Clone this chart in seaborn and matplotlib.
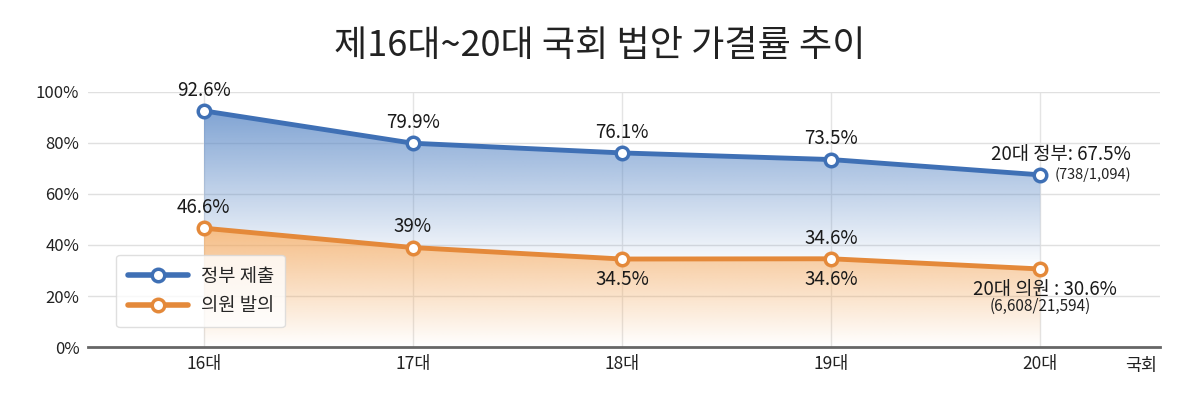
import numpy as np
import pandas as pd
import matplotlib
matplotlib.use("Agg")
import matplotlib.pyplot as plt
import seaborn as sns
from matplotlib.colors import to_rgb
from matplotlib.lines import Line2D

# chart data
sessions = ['16대', '17대', '18대', '19대', '20대']
gov_rate = [92.6, 79.9, 76.1, 73.5, 67.5]
mp_rate = [46.6, 39.0, 34.5, 34.6, 30.6]
gov_labels = ['92.6%', '79.9%', '76.1%', '73.5%', '20대 정부: 67.5%']
mp_labels = ['46.6%', '39%', '34.5%', '34.6%', '20대 의원 : 30.6%']
gov_note = '(738/1,094)'
mp_note = '(6,608/21,594)'
series_names = ['정부 제출', '의원 발의']
y_ticks = [0, 20, 40, 60, 80, 100]

sns.set_theme(style='white')
plt.rcParams['font.family'] = ['Noto Sans CJK KR', 'DejaVu Sans']

blue = '#3f70b5'
orange = '#e4893a'

df = pd.DataFrame({
    'x': list(range(len(sessions))) * 2,
    'rate': gov_rate + mp_rate,
    'series': [series_names[0]] * len(sessions) + [series_names[1]] * len(sessions),
})

fig = plt.figure(figsize=(12, 3.93), dpi=100)
ax = fig.add_axes([0.073, 0.117, 0.894, 0.649])
xs = np.arange(len(sessions))

# gradient fills clipped to the area under each line
def gradient_fill(lower, upper, color, y_lo, y_hi, amax):
    poly = ax.fill_between(xs, lower, upper, color='none', lw=0)
    yy = np.linspace(0, 100, 300)[:, None]
    a = np.clip((yy - y_lo) / (y_hi - y_lo), 0, 1) * amax
    img = np.zeros((300, 2, 4))
    img[..., :3] = to_rgb(color)
    img[..., 3] = a[:, :1]
    im = ax.imshow(img, extent=[0, len(xs) - 1, 0, 100], origin='lower',
                   aspect='auto', zorder=1, interpolation='bilinear')
    im.set_clip_path(poly.get_paths()[0], transform=ax.transData)

gradient_fill(mp_rate, gov_rate, '#5a88c6', 30, 95, 0.8)
gradient_fill([0] * len(xs), mp_rate, '#f2a65a', 0, 47, 0.75)

sns.lineplot(data=df, x='x', y='rate', hue='series', palette=[blue, orange],
             lw=3.5, marker='o', markersize=9, markerfacecolor='white',
             markeredgewidth=2.5, ax=ax, zorder=3, legend=False)
for line, c in zip(ax.lines[:2], [blue, orange]):
    line.set_markeredgecolor(c)

for x in xs:
    ax.axvline(x, color='#e4e4e4', lw=1, zorder=0)
for y in y_ticks[1:]:
    ax.axhline(y, color='#e0e0e0', lw=1, zorder=0)

ax.set_xlim(-0.555, 4.574)
ax.set_ylim(0, 100)
ax.set_yticks(y_ticks)
ax.set_yticklabels([f'{t}%' for t in y_ticks], fontsize=12, color='#222')
ax.set_xticks(xs)
ax.set_xticklabels(sessions, fontsize=12.5, color='#222')
ax.tick_params(length=0, pad=6)
ax.set_xlabel('')
ax.set_ylabel('')
for s in ['top', 'right', 'left']:
    ax.spines[s].set_visible(False)
ax.spines['bottom'].set_color('#666')
ax.spines['bottom'].set_linewidth(2)

# value labels
lab = dict(fontsize=13.5, color='#1a1a1a', ha='center', zorder=5)
for i in range(4):
    ax.text(xs[i], gov_rate[i] + 4, gov_labels[i], va='bottom', **lab)
ax.text(xs[4] + 0.1, gov_rate[4] + 4, gov_labels[4], va='bottom', **lab)
ax.text(xs[4] + 0.07, gov_rate[4], gov_note, va='center', ha='left',
        fontsize=10.5, color='#222')

ax.text(xs[0], mp_rate[0] + 4, mp_labels[0], va='bottom', **lab)
ax.text(xs[1], mp_rate[1] + 4, mp_labels[1], va='bottom', **lab)
ax.text(xs[2], mp_rate[2] - 4, mp_labels[2], va='top', **lab)
ax.text(xs[3], mp_rate[3] + 4, mp_labels[3], va='bottom', **lab)
ax.text(xs[3], mp_rate[3] - 4, mp_labels[3], va='top', **lab)
ax.text(xs[4] + 0.02, mp_rate[4] - 4, mp_labels[4], va='top', **lab)
ax.text(xs[4], mp_rate[4] - 11.5, mp_note, va='top', ha='center',
        fontsize=11, color='#222')

ax.text(4.48, -4, '국회', ha='center', va='top', fontsize=12.5, color='#222')

handles = [Line2D([], [], color=c, lw=4, marker='o', markersize=9,
                  markerfacecolor='white', markeredgecolor=c, markeredgewidth=2.5)
           for c in [blue, orange]]
leg = ax.legend(handles, series_names, loc='lower left',
                bbox_to_anchor=(0.018, 0.04), fontsize=13.5, frameon=True,
                fancybox=True, handlelength=3.2, borderpad=0.6,
                labelspacing=0.45, handletextpad=0.7)
leg.get_frame().set_edgecolor('#d8d8d8')
leg.get_frame().set_facecolor('white')
leg.set_zorder(6)

fig.suptitle('제16대~20대 국회 법안 가결률 추이', fontsize=26, y=0.93,
             color='#222', fontweight='medium')

fig.savefig('out.png', dpi=100)
